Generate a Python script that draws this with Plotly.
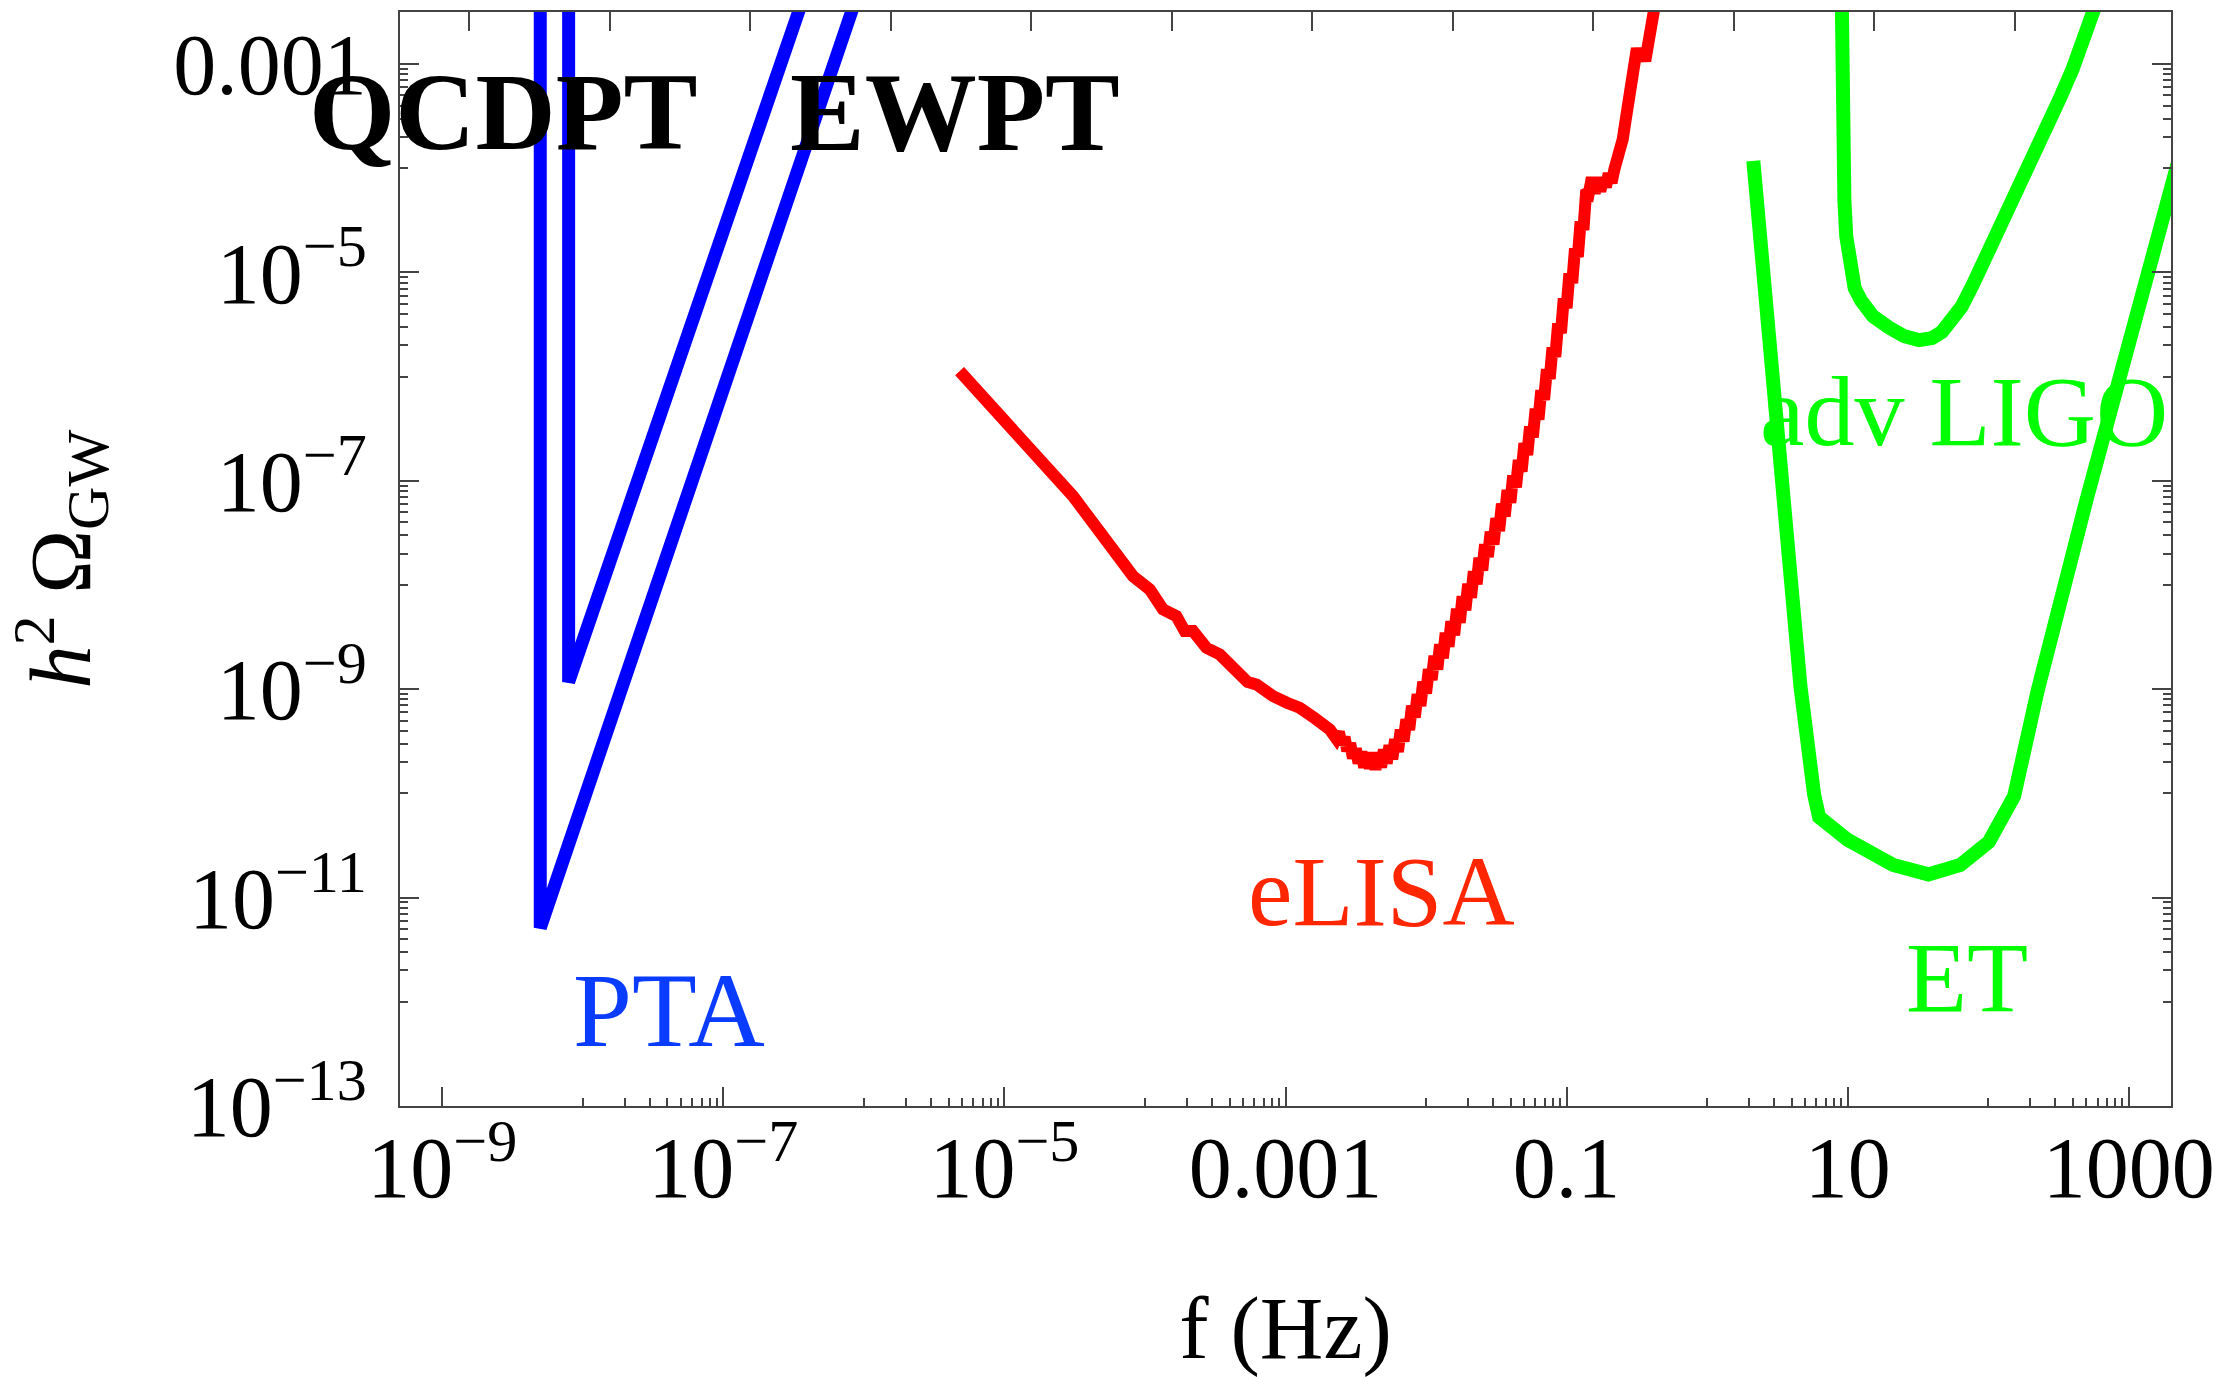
import plotly.graph_objects as go

# ---------------- tick labels / tick positions ----------------
x_tick_vals = [1e-9, 1e-7, 1e-5, 1e-3, 1e-1, 1e1, 1e3]
x_tick_text = ["10<sup>−9</sup>", "10<sup>−7</sup>", "10<sup>−5</sup>", "0.001", "0.1", "10", "1000"]
y_tick_vals = [1e-13, 1e-11, 1e-9, 1e-7, 1e-5, 1e-3]
y_tick_text = ["10<sup>−13</sup>", "10<sup>−11</sup>", "10<sup>−9</sup>",
               "10<sup>−7</sup>", "10<sup>−5</sup>", "0.001"]
x_minor_decades = [-8, -6, -4, -2, 0, 2]
y_minor_decades = [-12, -10, -8, -6, -4]
minor_mult = [1, 2, 3, 4, 5, 6, 7, 8, 9]
top_tick_decades = list(range(-9, 3))
top_tick_mult = 1.55

# ---------------- curves (log10 f, log10 h^2 Omega) ----------------
pta_outer_logf = [-8.303, -8.303, -6.0]
pta_outer_logomega = [-1.5, -11.29, -2.15]
pta_inner_logf = [-8.101, -8.101, -6.3]
pta_inner_logomega = [-1.5, -8.93, -1.85]

elisa_logf = [
    -5.319, -4.512, -4.085, -3.966, -3.872, -3.820, -3.777, -3.717, -3.658, -3.600,
    -3.563, -3.468, -3.400, -3.338, -3.270, -3.207, -3.140, -3.089, -2.990, -2.899,
    -2.790, -2.685,
    -2.640, -2.620, -2.600, -2.580, -2.560, -2.540, -2.520, -2.500, -2.480, -2.460,
    -2.440, -2.420, -2.400, -2.380, -2.360, -2.340, -2.320, -2.300, -2.280, -2.260,
    -2.240, -2.220, -2.200, -2.180, -2.160, -2.140, -2.120, -2.100, -2.080, -2.060,
    -2.040, -2.020, -2.000, -1.980, -1.960, -1.940, -1.920, -1.900, -1.880, -1.860,
    -1.840, -1.820, -1.800, -1.780, -1.760, -1.740, -1.720, -1.700, -1.680, -1.660,
    -1.640, -1.620, -1.600, -1.580, -1.560, -1.540, -1.520, -1.500, -1.480, -1.460,
    -1.440, -1.420, -1.400, -1.380, -1.360, -1.340, -1.320, -1.300, -1.280, -1.260,
    -1.240, -1.220, -1.200, -1.180, -1.160, -1.140, -1.120, -1.100, -1.080, -1.060,
    -1.040, -1.020, -1.000, -0.980, -0.960, -0.940, -0.920, -0.900, -0.880, -0.860,
    -0.840, -0.820, -0.800, -0.780, -0.760, -0.740, -0.720, -0.700, -0.680, -0.660,
    -0.640, -0.620, -0.600, -0.580, -0.560, -0.540, -0.520, -0.500, -0.480, -0.460,
    -0.440, -0.420, -0.400, -0.380, -0.370,
]
elisa_logomega = [
    -5.947, -7.147, -7.915, -8.042, -8.234, -8.262, -8.298, -8.442, -8.442, -8.540,
    -8.602, -8.666, -8.760, -8.874, -8.930, -8.954, -9.020, -9.066, -9.130, -9.178,
    -9.280, -9.386,
    -9.47, -9.41, -9.53, -9.46, -9.59, -9.52, -9.66, -9.57, -9.71, -9.60,
    -9.75, -9.61, -9.76, -9.62, -9.77, -9.61, -9.75, -9.58, -9.71, -9.54,
    -9.67, -9.48, -9.60, -9.39, -9.50, -9.29, -9.39, -9.16, -9.27, -9.05,
    -9.16, -8.93, -9.04, -8.81, -8.91, -8.68, -8.81, -8.57, -8.70, -8.46,
    -8.59, -8.35, -8.48, -8.23, -8.36, -8.11, -8.24, -7.99, -8.12, -7.87,
    -7.99, -7.74, -7.86, -7.61, -7.73, -7.49, -7.61, -7.36, -7.48, -7.22,
    -7.34, -7.09, -7.21, -6.95, -7.06, -6.80, -6.91, -6.64, -6.75, -6.48,
    -6.58, -6.31, -6.41, -6.13, -6.22, -5.93, -6.02, -5.72, -5.81, -5.49,
    -5.58, -5.25, -5.34, -5.01, -5.10, -4.77, -4.85, -4.51, -4.59, -4.21,
    -4.23, -4.09, -4.24, -4.11, -4.22, -4.09, -4.18, -4.05, -4.14, -4.01,
    -3.93, -3.83, -3.72, -3.54, -3.34, -3.11, -2.98, -2.85, -2.96, -2.87,
    -2.97, -2.85, -2.70, -2.50, -2.20,
]

ligo_logf = [0.950, 0.953, 0.965, 0.977, 0.990, 1.013, 1.050, 1.096, 1.180, 1.288,
             1.400, 1.507, 1.600, 1.671, 1.740, 1.810, 1.890, 1.980, 2.080, 2.180,
             2.290, 2.400, 2.510, 2.600, 2.679, 2.760]
ligo_logomega = [-1.5, -3.35, -3.90, -4.31, -4.65, -4.95, -5.15, -5.27, -5.42, -5.523,
                 -5.61, -5.65, -5.63, -5.57, -5.47, -5.33, -5.12, -4.87, -4.58, -4.29,
                 -3.97, -3.65, -3.33, -3.05, -2.77, -2.45]

et_logf = [0.329, 0.664, 0.761, 0.797, 1.001, 1.324, 1.575, 1.802, 2.005, 2.185,
           2.352, 2.700, 3.324, 3.450]
et_logomega = [-3.929, -8.968, -10.007, -10.227, -10.447, -10.686, -10.777, -10.686,
               -10.465, -10.025, -9.015, -7.18, -4.078, -3.45]

# label positions (log10 units)
labels = [
    ("<b>QCDPT</b>", -8.568, -3.455, "black", 111),
    ("<b>EWPT</b>", -5.354, -3.455, "black", 112),
    ("PTA", -7.385, -12.083, "#0a3cff", 106),
    ("eLISA", -2.317, -10.938, "#ff2600", 100),
    ("adv LIGO", 1.827, -6.331, "#00ff00", 100),
    ("ET", 1.848, -11.766, "#00ff00", 100),
]

FONT = "Liberation Serif"


def pw(vals):
    return [10.0 ** v for v in vals]


fig = go.Figure()
curves = [
    (pta_outer_logf, pta_outer_logomega, "#0000ff", 13),
    (pta_inner_logf, pta_inner_logomega, "#0000ff", 13),
    (elisa_logf, elisa_logomega, "#ff0000", 12),
    (ligo_logf, ligo_logomega, "#00ff00", 14),
    (et_logf, et_logomega, "#00ff00", 14),
]
for lf, lo, col, w in curves:
    fig.add_trace(go.Scatter(x=pw(lf), y=pw(lo), mode="lines",
                             line=dict(color=col, width=w), hoverinfo="skip",
                             showlegend=False))

# invisible trace to carry the top frame axis
fig.add_trace(go.Scatter(x=[None], y=[None], xaxis="x2", mode="lines",
                         showlegend=False, hoverinfo="skip"))

x_minor_vals = [k * 10.0 ** e for e in x_minor_decades for k in minor_mult]
y_minor_vals = [k * 10.0 ** e for e in y_minor_decades for k in minor_mult]
x_top_vals = [top_tick_mult * 10.0 ** e for e in top_tick_decades]

axis_col = "#444444"
xr = [-9.30103, 3.30103]
yr = [-13, -2.5]

fig.update_layout(
    width=2227, height=1377,
    margin=dict(l=400, r=56, t=12, b=271),
    paper_bgcolor="white", plot_bgcolor="white",
    showlegend=False,
    font=dict(family=FONT, color="black"),
    xaxis=dict(
        type="log", range=xr, showgrid=False, zeroline=False,
        showline=True, linecolor=axis_col, linewidth=2, mirror=True,
        ticks="inside", ticklen=19, tickwidth=2, tickcolor=axis_col,
        tickmode="array", tickvals=x_tick_vals, ticktext=x_tick_text,
        tickfont=dict(family=FONT, size=86, color="black"),
        ticklabelstandoff=-14,
        minor=dict(tickmode="array", tickvals=x_minor_vals, ticks="inside",
                   ticklen=8, tickwidth=2, tickcolor=axis_col, showgrid=False),
        title=dict(text="f (Hz)", font=dict(family=FONT, size=88, color="black"),
                   standoff=90),
        automargin=False,
    ),
    xaxis2=dict(
        type="log", range=xr, overlaying="x", side="top", anchor="y",
        showgrid=False, zeroline=False, showline=False,
        ticks="inside", ticklen=19, tickwidth=2, tickcolor=axis_col,
        tickmode="array", tickvals=x_top_vals, showticklabels=False,
        automargin=False,
    ),
    yaxis=dict(
        type="log", range=yr, showgrid=False, zeroline=False,
        showline=True, linecolor=axis_col, linewidth=2, mirror="ticks",
        ticks="inside", ticklen=19, tickwidth=2, tickcolor=axis_col,
        tickmode="array", tickvals=y_tick_vals, ticktext=y_tick_text,
        tickfont=dict(family=FONT, size=86, color="black"),
        ticklabelstandoff=14,
        minor=dict(tickmode="array", tickvals=y_minor_vals, ticks="inside",
                   ticklen=8, tickwidth=2, tickcolor=axis_col, showgrid=False),
        title=dict(text="<i>h</i><sup>2</sup> Ω<sub>GW</sub>",
                   font=dict(family=FONT, size=86, color="black"), standoff=58),
        automargin=False,
    ),
)

for txt, lx, ly, col, size in labels:
    fig.add_annotation(x=lx, y=ly, xref="x", yref="y", text=txt, showarrow=False,
                       xanchor="center", yanchor="middle",
                       font=dict(family=FONT, size=size, color=col))

fig.write_html("out.html")
